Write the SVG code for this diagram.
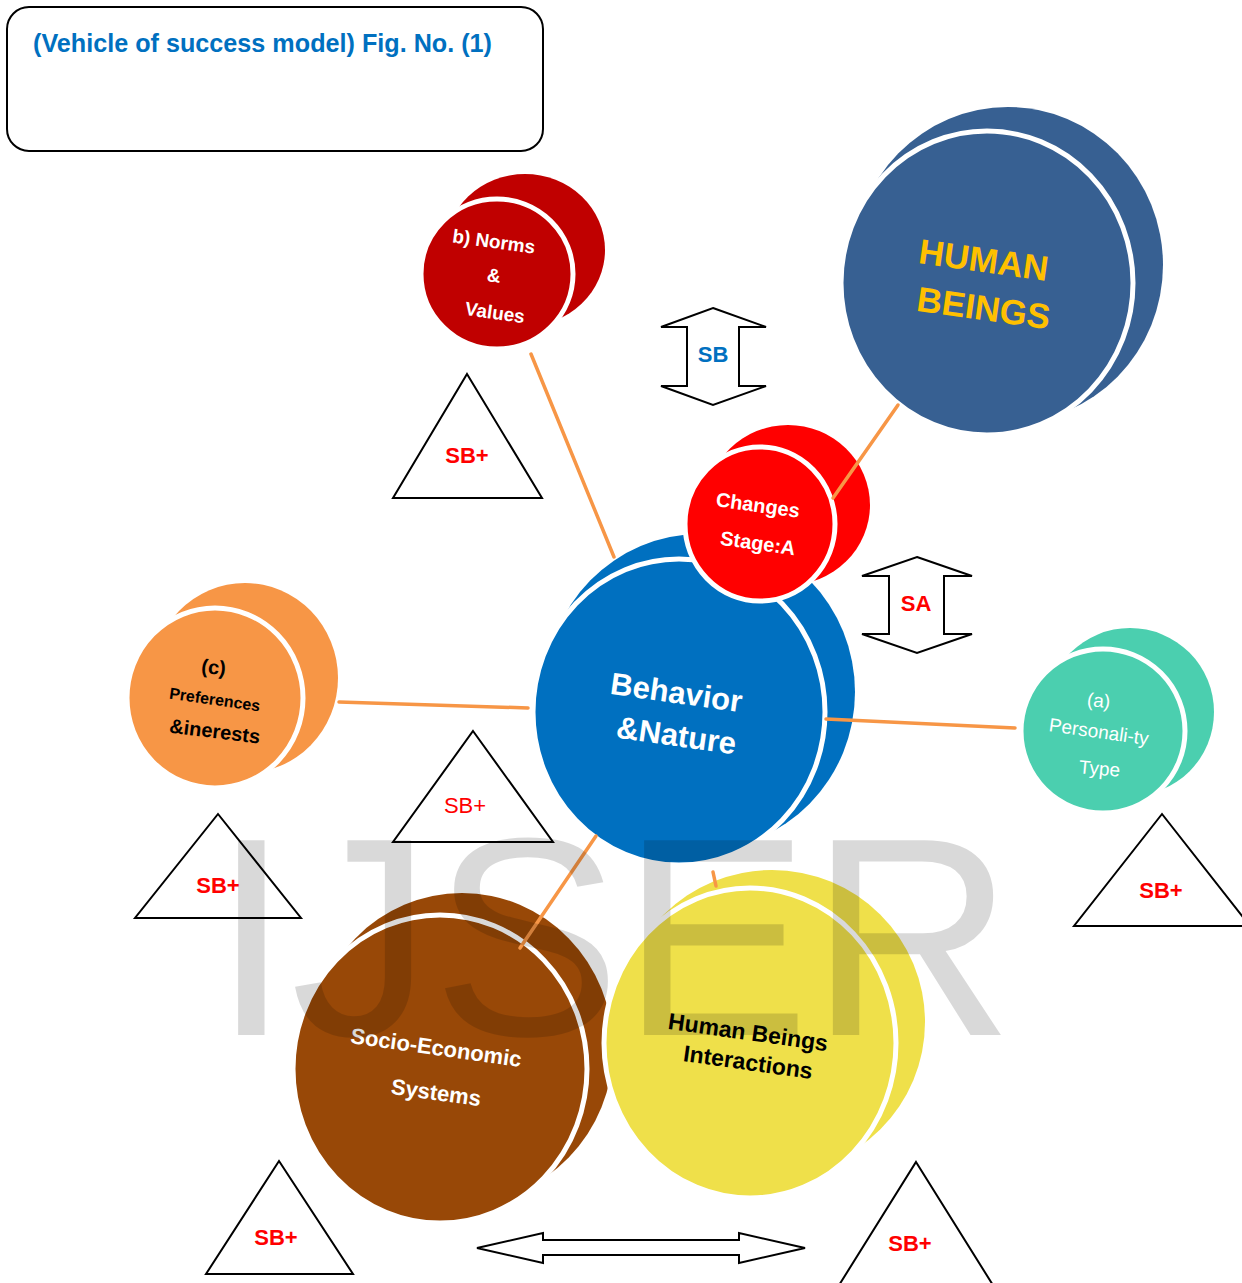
<svg xmlns="http://www.w3.org/2000/svg" width="1242" height="1283" viewBox="0 0 1242 1283">
<style>
text{font-family:"Liberation Sans",Arial,sans-serif}
.face{stroke:#FFFFFF;stroke-width:5}
.conn{stroke:#F79646;stroke-width:3.5;fill:none;stroke-linecap:round}
.tri{fill:#FFFFFF;stroke:#000000;stroke-width:2;stroke-linejoin:miter}
.blk{fill:#FFFFFF;stroke:#000000;stroke-width:2;stroke-linejoin:miter}
.sbp{fill:#FF0000;font-weight:bold;font-size:22px;text-anchor:middle}
.lbl{text-anchor:middle;font-weight:bold}
</style>
<rect x="7" y="7" width="536" height="144" rx="22" ry="22" fill="#FFFFFF" stroke="#000000" stroke-width="2"/>
<text x="33" y="52" font-size="25" font-weight="bold" fill="#0070C0" textLength="459" lengthAdjust="spacingAndGlyphs">(Vehicle of success model) Fig. No. (1)</text>

<g id="node-norms">
<ellipse cx="525" cy="250" rx="80" ry="76" fill="#C00000"/>
<ellipse class="face" cx="497" cy="274" rx="76" ry="75" fill="#C00000"/>
<g fill="#FFFFFF" class="lbl" font-size="19">
<text x="493" y="248" transform="rotate(8 493 248)">b) Norms</text>
<text x="493" y="282" transform="rotate(8 493 282)">&amp;</text>
<text x="494" y="319" transform="rotate(8 494 319)">Values</text>
</g>
</g>

<g id="node-human-beings">
<ellipse cx="1008" cy="265" rx="155" ry="158" fill="#376092"/>
<ellipse class="face" cx="987" cy="283" rx="146" ry="152" fill="#376092"/>
<g fill="#FFC000" class="lbl" font-size="35">
<text x="982" y="272" transform="rotate(8 982 272)">HUMAN</text>
<text x="982" y="320" transform="rotate(8 982 320)">BEINGS</text>
</g>
</g>

<g id="node-behavior">
<ellipse cx="700" cy="692" rx="155" ry="158" fill="#0070C0"/>
<ellipse class="face" cx="679" cy="712" rx="146" ry="153" fill="#0070C0"/>
<g fill="#FFFFFF" class="lbl" font-size="31">
<text x="675" y="703" transform="rotate(8 675 703)">Behavior</text>
<text x="675" y="746" transform="rotate(8 675 746)">&amp;Nature</text>
</g>
</g>

<g id="node-changes">
<ellipse cx="788" cy="505" rx="82" ry="80" fill="#FF0000"/>
<ellipse class="face" cx="760" cy="524" rx="75" ry="77" fill="#FF0000"/>
<g fill="#FFFFFF" class="lbl" font-size="20">
<text x="757" y="512" transform="rotate(8 757 512)">Changes</text>
<text x="757" y="550" transform="rotate(8 757 550)">Stage:A</text>
</g>
</g>

<g id="node-preferences">
<ellipse cx="245" cy="678" rx="93" ry="95" fill="#F79646"/>
<ellipse class="face" cx="215" cy="698" rx="88" ry="90" fill="#F79646"/>
<g fill="#000000" class="lbl">
<text x="213" y="674" font-size="20" transform="rotate(6 213 674)">(c)</text>
<text x="214" y="705" font-size="16" transform="rotate(8 214 705)">Preferences</text>
<text x="214" y="738" font-size="20" transform="rotate(7 214 738)">&amp;inerests</text>
</g>
</g>

<g id="node-personality">
<ellipse cx="1130" cy="712" rx="84" ry="84" fill="#4BCFAF"/>
<ellipse class="face" cx="1103" cy="731" rx="82" ry="82" fill="#4BCFAF"/>
<g fill="#FFFFFF" text-anchor="middle" font-size="19">
<text x="1098" y="707" transform="rotate(6 1098 707)">(a)</text>
<text x="1098" y="738" transform="rotate(8 1098 738)">Personali-ty</text>
<text x="1099" y="775" transform="rotate(5 1099 775)">Type</text>
</g>
</g>

<g id="node-socio-economic">
<ellipse cx="462" cy="1048" rx="151" ry="155" fill="#984807"/>
<ellipse class="face" cx="440" cy="1069" rx="147" ry="154" fill="#984807"/>
<g fill="#FFFFFF" class="lbl" font-size="22">
<text x="435" y="1055" transform="rotate(8 435 1055)">Socio-Economic</text>
<text x="435" y="1100" transform="rotate(8 435 1100)">Systems</text>
</g>
</g>

<g id="node-interactions">
<ellipse cx="772" cy="1022" rx="153" ry="152" fill="#EFE04A"/>
<ellipse class="face" cx="750" cy="1043" rx="146" ry="155" fill="#EFE04A"/>
<g fill="#000000" class="lbl" font-size="23">
<text x="747" y="1040" transform="rotate(8 747 1040)">Human Beings</text>
<text x="747" y="1070" transform="rotate(8 747 1070)">Interactions</text>
</g>
</g>

<g id="connectors">
<line class="conn" x1="531" y1="354" x2="614" y2="557"/>
<line class="conn" x1="898" y1="405" x2="833" y2="498"/>
<line class="conn" x1="339" y1="702" x2="528" y2="708"/>
<line class="conn" x1="826" y1="719" x2="1015" y2="728"/>
<line class="conn" x1="596" y1="836" x2="520" y2="948"/>
<line class="conn" x1="713" y1="872" x2="716" y2="886"/>
</g>

<g id="arrow-sb">
<polygon class="blk" points="713,308 766,327 739,327 739,386 766,386 713,405 661,386 687,386 687,327 661,327"/>
<text x="713" y="362" font-size="22" font-weight="bold" fill="#0070C0" text-anchor="middle">SB</text>
</g>
<g id="arrow-sa">
<polygon class="blk" points="917,557 972,576 944,576 944,634 972,634 917,653 862,634 889,634 889,576 862,576"/>
<text x="916" y="611" font-size="22" font-weight="bold" fill="#FF0000" text-anchor="middle">SA</text>
</g>
<g id="arrow-bottom">
<polygon class="blk" points="477,1248 543,1233 543,1240 739,1240 739,1233 805,1248 739,1263 739,1255 543,1255 543,1263"/>
</g>

<g id="tri-1"><polygon class="tri" points="467,374 542,498 393,498"/><text class="sbp" x="467" y="463">SB+</text></g>
<g id="tri-2"><polygon class="tri" points="473,731 553,842 393,842"/><text x="465" y="813" font-size="22" fill="#FF0000" text-anchor="middle">SB+</text></g>
<g id="tri-3"><polygon class="tri" points="218,814 301,918 135,918"/><text class="sbp" x="218" y="893">SB+</text></g>
<g id="tri-4"><polygon class="tri" points="1162,814 1250,926 1074,926"/><text class="sbp" x="1161" y="898">SB+</text></g>
<g id="tri-5"><polygon class="tri" points="279,1161 353,1274 206,1274"/><text class="sbp" x="276" y="1245">SB+</text></g>
<g id="tri-6"><polygon class="tri" points="916,1162 996,1290 836,1290"/><text class="sbp" x="910" y="1251">SB+</text></g>

<text x="212" y="1035" font-size="283" fill="#000000" fill-opacity="0.15">IJSER</text>
</svg>
